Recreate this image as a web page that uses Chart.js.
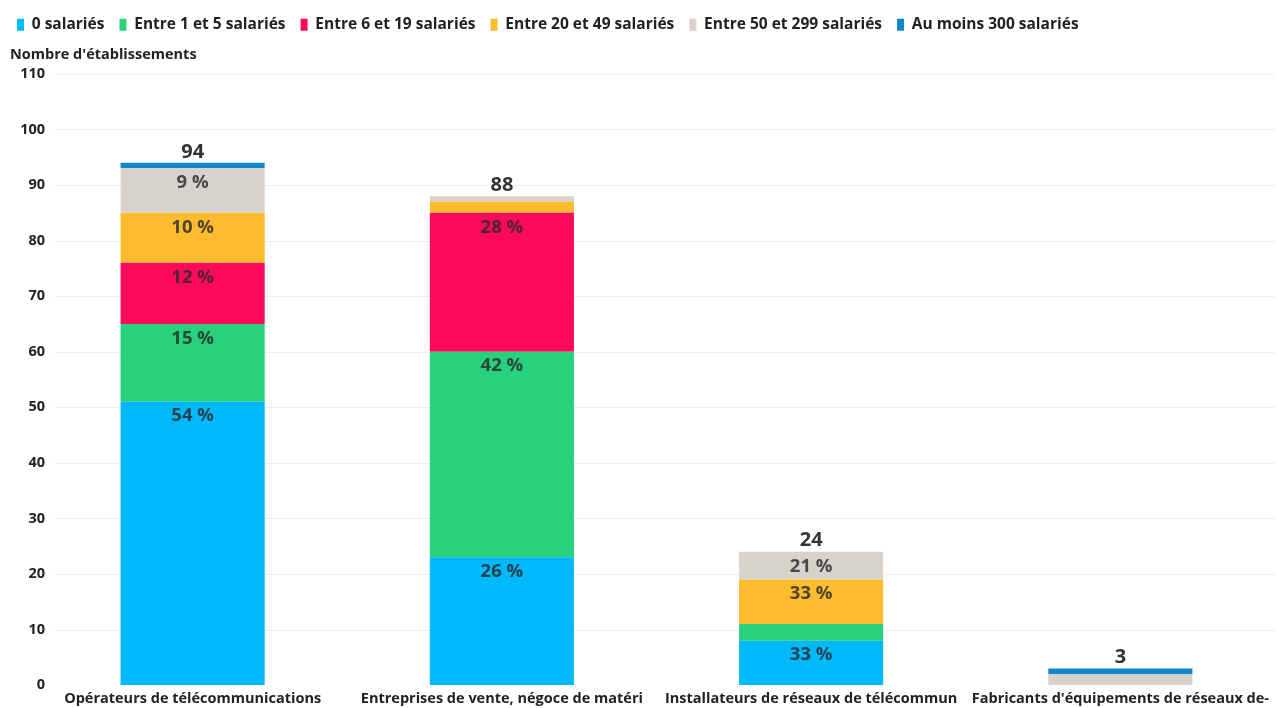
<!DOCTYPE html>
<html><head><meta charset="utf-8">
<style>html,body{margin:0;padding:0;background:#fff}#wrap{width:1278px;height:708px;position:relative}</style>
<script src="https://cdn.jsdelivr.net/npm/chart.js@4.4.1/dist/chart.umd.min.js"></script>
</head><body><div id="wrap"><canvas id="c"></canvas></div>
<script>
const categories = [
  "Opérateurs de télécommunications",
  "Entreprises de vente, négoce de matéri",
  "Installateurs de réseaux de télécommun",
  "Fabricants d'équipements de réseaux de-"
];
const seriesNames = ["0 salariés", "Entre 1 et 5 salariés", "Entre 6 et 19 salariés", "Entre 20 et 49 salariés", "Entre 50 et 299 salariés", "Au moins 300 salariés"];
const sal0 = [51, 23, 8, 0];
const sal1to5 = [14, 37, 3, 0];
const sal6to19 = [11, 25, 0, 0];
const sal20to49 = [9, 2, 8, 0];
const sal50to299 = [8, 1, 5, 2];
const sal300plus = [1, 0, 0, 1];
const yTicks = [0, 10, 20, 30, 40, 50, 60, 70, 80, 90, 100, 110];
const yTitle = "Nombre d'établissements";

const seriesData = [sal0, sal1to5, sal6to19, sal20to49, sal50to299, sal300plus];
const colors = ["#00b8fc", "#28d17c", "#ff0a5a", "#fdbb30", "#d7d2cb", "#1188c8"];
const FONT = "'Open Sans', sans-serif";

const gridPlugin = {
  id: 'customGrid',
  beforeDatasetsDraw(chart) {
    const ctx = chart.ctx, y = chart.scales.y, a = chart.chartArea;
    ctx.save();
    ctx.strokeStyle = '#efefef';
    ctx.lineWidth = 1;
    yTicks.forEach(t => {
      if (t === 0) return;
      const py = Math.round(y.getPixelForValue(t)) + 0.5;
      ctx.beginPath(); ctx.moveTo(55, py); ctx.lineTo(a.right, py); ctx.stroke();
    });
    ctx.font = '700 14.5px ' + FONT;
    ctx.fillStyle = '#222';
    ctx.textAlign = 'right';
    ctx.textBaseline = 'middle';
    yTicks.forEach(t => {
      ctx.fillText(String(t), 45, y.getPixelForValue(t));
    });
    ctx.restore();
  }
};

const labelPlugin = {
  id: 'stackLabels',
  afterDatasetsDraw(chart) {
    const ctx = chart.ctx;
    const totals = categories.map((_, i) => chart.data.datasets.reduce((s, d) => s + d.data[i], 0));
    ctx.save();
    ctx.textAlign = 'center';
    ctx.textBaseline = 'middle';
    chart.data.datasets.forEach((ds, di) => {
      const meta = chart.getDatasetMeta(di);
      meta.data.forEach((bar, i) => {
        const v = ds.data[i];
        if (!v) return;
        const h = Math.abs(bar.base - bar.y);
        if (h < 22) return;
        const pct = Math.round(v / totals[i] * 100);
        ctx.font = '700 18.5px ' + FONT;
        ctx.fillStyle = 'rgba(40,40,40,0.82)';
        ctx.fillText(pct + ' %', bar.x, bar.y + 14.5);
      });
    });
    const ys = chart.scales.y, xs = chart.scales.x;
    totals.forEach((t, i) => {
      ctx.font = '700 20px ' + FONT;
      ctx.fillStyle = '#333';
      ctx.fillText(String(t), xs.getPixelForValue(i), ys.getPixelForValue(t) - 11);
    });
    ctx.restore();
  }
};

new Chart(document.getElementById('c'), {
  type: 'bar',
  data: {
    labels: categories,
    datasets: seriesData.map((d, i) => ({
      label: seriesNames[i],
      data: d,
      backgroundColor: colors[i],
      borderWidth: 0,
      categoryPercentage: 1,
      barPercentage: 0.466
    }))
  },
  options: {
    responsive: true,
    maintainAspectRatio: false,
    devicePixelRatio: 1,
    animation: false,
    layout: { padding: { left: 10, right: 3, top: 10, bottom: -5.5 } },
    plugins: {
      legend: {
        position: 'top',
        align: 'start',
        labels: {
          boxWidth: 7,
          boxHeight: 12,
          padding: 7,
          color: '#222',
          font: { family: FONT, weight: '700', size: 15.5 },
          generateLabels(chart) {
            return Chart.defaults.plugins.legend.labels.generateLabels(chart).map(l => { l.text = l.text + '  '; return l; });
          }
        }
      },
      title: {
        display: true,
        text: yTitle,
        align: 'start',
        weight: 500,
        color: '#222',
        font: { family: FONT, weight: '700', size: 14.5 },
        padding: { top: 4, bottom: 10 }
      },
      tooltip: { enabled: false }
    },
    scales: {
      x: {
        stacked: true,
        grid: { display: false, drawTicks: false },
        border: { display: false },
        ticks: {
          color: '#222', padding: 5.5, maxRotation: 0, minRotation: 0, autoSkip: false,
          font: { family: FONT, weight: '700', size: 14.5 }
        }
      },
      y: {
        stacked: true,
        min: 0, max: 110,
        grid: { display: false, drawTicks: false },
        border: { display: false },
        afterFit(scale) { scale.width = 28; },
        ticks: { display: false, stepSize: 10 }
      }
    }
  },
  plugins: [gridPlugin, labelPlugin]
});
</script>
</body></html>
